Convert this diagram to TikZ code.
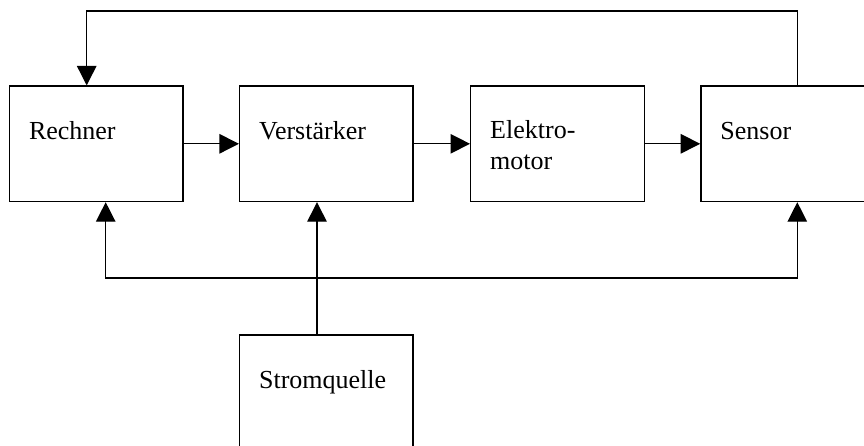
\documentclass[tikz,border=0pt]{standalone}
\usepackage{fontspec}
\setmainfont{Liberation Serif}
\usetikzlibrary{arrows.meta,calc}
\begin{document}
\begin{tikzpicture}[x=1pt,y=-1pt,
  blockbox/.style={draw,line width=1.3pt,minimum width=173.5pt,minimum height=115.5pt,inner sep=0pt},
  blocktext/.style={anchor=base west,inner sep=0pt,font=\fontsize{26}{31}\selectfont,align=left},
  conn/.style={line width=1.3pt},
  arr/.style={conn,-{Triangle[length=19.5pt,width=19.5pt]}},
  arrboth/.style={conn,{Triangle[length=19.5pt,width=19.5pt]}-{Triangle[length=19.5pt,width=19.5pt]}}]
\useasboundingbox (0,0) rectangle (864,446);
\node[blockbox] (R) at (96.2,143.8) {};
\node[blockbox] (V) at (326.3,143.8) {};
\node[blockbox] (E) at (557.4,143.8) {};
\node[blockbox] (S) at (787.6,143.8) {};
\node[blockbox] (Q) at (326.3,392.8) {};
\node[blocktext] (tR) at ($(R.north west)+(20,54)$) {Rechner};
\node[blocktext] (tV) at ($(V.north west)+(20,54)$) {Verstärker};
\node[blocktext] (tE) at ($(E.north west)+(20,84)$) {Elektro-\\motor};
\node[blocktext] (tS) at ($(S.north west)+(20,54)$) {Sensor};
\node[blocktext] (tQ) at ($(Q.north west)+(20,54)$) {Stromquelle};
\coordinate (topr) at (797.6,11);
\coordinate (topl) at (86.7,11);
\coordinate (botl) at (105.7,278);
\coordinate (botr) at (797.3,278);
\coordinate (junc) at (317,278);
\draw[arr] (R) -- (V);
\draw[arr] (V) -- (E);
\draw[arr] (E) -- (S);
\draw[arr] (S.north -| topr) -- (topr) -- (topl) -- (topl |- R.north);
\draw[arrboth] (botl |- R.south) -- (botl) -- (botr) -- (botr |- S.south);
\draw[arr] (Q.north -| junc) -- (junc) -- (junc |- V.south);
\end{tikzpicture}
\end{document}
